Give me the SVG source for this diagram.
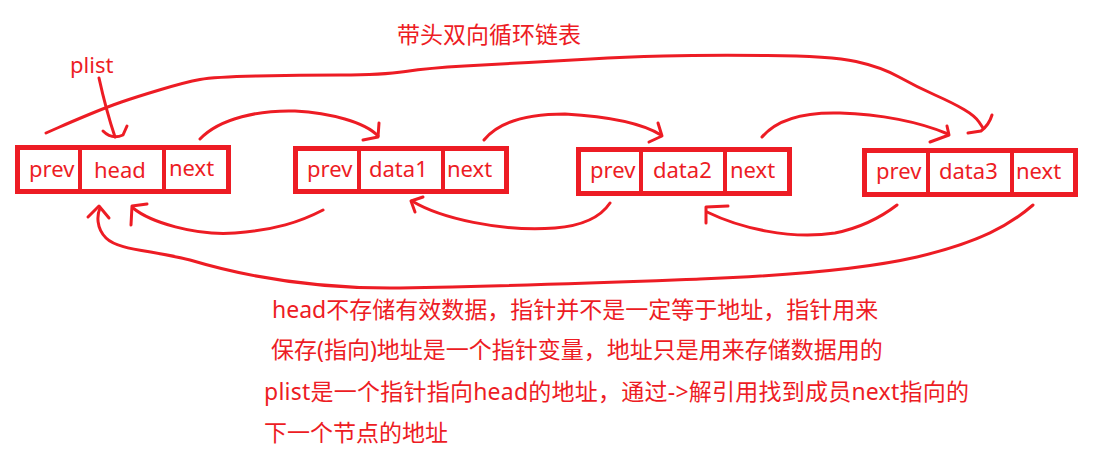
<svg xmlns="http://www.w3.org/2000/svg" width="1119" height="453" viewBox="0 0 1119 453">
<style>
.box{fill:none;stroke:#ed1c24;stroke-width:5}
.div{stroke:#ed1c24;stroke-width:4}
.lbl{font-family:"Noto Sans","Noto Sans CJK SC",sans-serif;font-size:22px;fill:#ed1c24}
.txt{font-family:"Noto Sans","Noto Sans CJK SC",sans-serif;font-size:23px;fill:#ed1c24}
.wire{fill:none;stroke:#ed1c24;stroke-width:3;stroke-linecap:round;stroke-linejoin:round}
</style>
<rect width="1119" height="453" fill="#ffffff"/>
<text class="txt" x="397" y="43">带头双向循环链表</text>
<text class="lbl" x="70" y="73">plist</text>
<g id="node-head">
<rect class="box" x="17.5" y="147.5" width="211" height="44"/>
<line class="div" x1="80" y1="147" x2="80" y2="192"/>
<line class="div" x1="164" y1="147" x2="164" y2="192"/>
<text class="lbl" x="29" y="177">prev</text>
<text class="lbl" x="94" y="178">head</text>
<text class="lbl" x="169" y="176">next</text>
</g>
<g id="node-data1">
<rect class="box" x="295.5" y="148.5" width="211" height="43"/>
<line class="div" x1="359" y1="148" x2="359" y2="192"/>
<line class="div" x1="443" y1="148" x2="443" y2="192"/>
<text class="lbl" x="307" y="177">prev</text>
<text class="lbl" x="369" y="177">data1</text>
<text class="lbl" x="447" y="177">next</text>
</g>
<g id="node-data2">
<rect class="box" x="578.5" y="149.5" width="211" height="44"/>
<line class="div" x1="641" y1="149" x2="641" y2="194"/>
<line class="div" x1="725" y1="149" x2="725" y2="194"/>
<text class="lbl" x="590" y="178">prev</text>
<text class="lbl" x="653" y="178">data2</text>
<text class="lbl" x="730" y="178">next</text>
</g>
<g id="node-data3">
<rect class="box" x="864.5" y="150.5" width="211" height="44"/>
<line class="div" x1="928" y1="150" x2="928" y2="195"/>
<line class="div" x1="1012" y1="150" x2="1012" y2="195"/>
<text class="lbl" x="876" y="179">prev</text>
<text class="lbl" x="939" y="179">data3</text>
<text class="lbl" x="1016" y="179">next</text>
</g>
<g id="connectors">
<g id="c-top-arc">
<path class="wire" d="M46,133 L58.5,127.5 Q71,122 89,114.5 Q107,107 121.5,102 Q136,97 161,89.5 Q186,82 200,79.5 Q214,77 257,76 Q300,75 341,75 Q382,75 405.5,71.5 Q429,68 464.5,66 Q500,64 528.5,62.5 Q557,61 590.5,59 Q624,57 663.5,56 Q703,55 767,55.5 Q831,56 856,61.5 Q881,67 899,77 Q917,87 935,95 Q953,103 964,109.5 Q975,116 979,122 L983,128"/>
<path class="wire" d="M968,133 L981,131 Q989,125 992,115"/>
</g>
<g id="c-plist">
<path class="wire" d="M99,78 Q106,110 115,137"/>
<path class="wire" d="M103,131 Q112,140 123,135 L127,126"/>
</g>
<g id="c-head-data1">
<path class="wire" d="M200,139 C220,118 260,110 295,111 C330,113 365,122 378,136"/>
<path class="wire" d="M363,140 L378,137 L379,123"/>
</g>
<g id="c-data1-data2">
<path class="wire" d="M484,140 C500,120 530,114 565,114 C600,116 640,122 661,135"/>
<path class="wire" d="M649,142 L662,136 L658,123"/>
</g>
<g id="c-data2-data3">
<path class="wire" d="M762,137 C778,118 805,112 840,113 C880,114 920,122 948,134"/>
<path class="wire" d="M930,142 L949,135 L947,126"/>
</g>
<g id="c-data1-head">
<path class="wire" d="M323,210 C300,222 275,230 235,233 C195,236 150,222 133,208"/>
<path class="wire" d="M131,225 L132,206 L147,204"/>
</g>
<g id="c-data2-data1">
<path class="wire" d="M610,203 C600,218 580,226 555,228 C500,232 440,218 412,201"/>
<path class="wire" d="M423,197 L411,201 L415,212"/>
</g>
<g id="c-data3-data2">
<path class="wire" d="M897,205 C880,218 860,228 835,233 C790,240 740,228 707,212"/>
<path class="wire" d="M706,223 L706,207 L728,206"/>
</g>
<g id="c-bottom-arc">
<path class="wire" d="M1033,205 C1010,225 980,242 917,257 C860,270 780,276 700,279 C620,282 520,286 400,288 C320,289 250,278 190,260 C150,250 118,250 106,238 C96,228 97,215 100,208"/>
<path class="wire" d="M88,217 L99,206 L109,218"/>
</g>
</g>
<g id="notes">
<text class="txt" x="272" y="318">head不存储有效数据，指针并不是一定等于地址，指针用来</text>
<text class="txt" x="271" y="358">保存(指向)地址是一个指针变量，地址只是用来存储数据用的</text>
<text class="txt" x="264" y="400" textLength="705" lengthAdjust="spacing">plist是一个指针指向head的地址，通过-&gt;解引用找到成员next指向的</text>
<text class="txt" x="264" y="441">下一个节点的地址</text>
</g>
</svg>
